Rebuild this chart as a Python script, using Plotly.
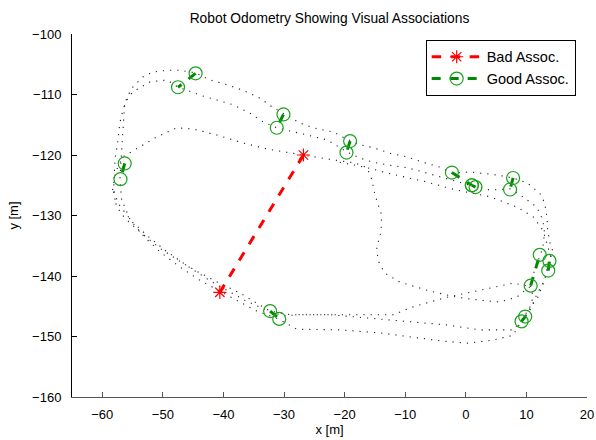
import plotly.graph_objects as go

# ---- odometry laps (data coordinates, metres) ----
lap1_x = [-57.9, -58.1, -57.9, -57.4, -57.1, -56.6, -55.9, -55.0, -53.3, -51.7, -49.3, -47.2, -44.7, -42.2, -39.4,
          -36.8, -34.0, -31.9, -30.0, -27.4, -25.2, -21.9, -19.6, -17.5, -15.3, -12.5, -9.7, -7.1, -4.3, -2.3,
          0.7, 5.1, 7.8, 10.1, 12.2, 13.0, 13.4, 13.5, 13.9, 14.4, 13.7, 13.0, 11.9, 10.6, 9.7,
          7.8, 2.3, -3.1, -8.7, -16.3, -22.4, -29.0, -32.3, -34.5, -37.3, -40.6, -43.9, -46.7, -50.5,
          -53.8, -56.3, -57.6, -57.9]
lap1_y = [-127.4, -125.0, -120.8, -117.5, -114.7, -112.6, -110.4, -108.8, -107.1, -106.3, -106.0, -106.0, -106.4,
          -107.6, -108.4, -109.3, -110.6, -112.1, -113.2, -114.7, -115.5, -116.2, -117.4, -118.3, -118.8, -119.7,
          -120.3, -121.2, -122.0, -123.0, -122.8, -123.3, -123.8, -124.6, -126.3, -127.9, -130.3, -132.4, -134.6,
          -136.0, -137.5, -140.7, -143.5, -145.3, -146.8, -148.9, -148.9, -148.1, -147.6, -146.9, -146.4, -146.4,
          -145.8, -144.5, -142.8, -141.2, -139.5, -137.9, -135.4, -132.7, -130.4, -128.6, -127.4]

lap2_x = [-56.8, -57.1, -56.9, -56.6, -56.3, -55.0, -52.1, -49.3, -47.5, -46.0, -43.9, -41.1, -38.4, -35.6, -33.5,
          -31.2, -28.5, -26.2, -22.9, -19.6, -17.5, -15.3, -12.5, -9.7, -7.1, -4.3, 1.0, 4.0, 7.3, 9.4, 11.7,
          12.7, 13.0, 12.7, 12.2, 11.6, 10.9, 10.7, 11.1, 10.6, 9.2, 7.8, 4.5, 0.2, -4.3, -8.7, -14.2, -20.8,
          -27.9, -30.9, -34.5, -37.3, -40.3, -43.9, -47.2, -50.5, -53.0, -55.4, -56.8]
lap2_y = [-127.4, -124.1, -120.8, -115.9, -111.4, -109.6, -107.9, -107.6, -108.8, -109.3, -110.1, -110.9, -111.7,
          -113.1, -114.5, -115.5, -116.2, -116.7, -117.5, -119.5, -120.5, -121.2, -121.7, -122.1, -122.8, -123.6,
          -125.1, -125.8, -125.6, -126.9, -128.6, -130.7, -132.9, -135.3, -136.9, -138.5, -140.3, -141.7, -143.5,
          -145.1, -147.4, -149.8, -150.6, -151.1, -150.7, -150.1, -149.4, -148.9, -148.8, -147.1, -145.8, -144.3,
          -142.6, -140.7, -138.5, -136.0, -133.6, -130.7, -127.4]

lap3_x = [-58.3, -57.8, -56.6, -53.8, -51.0, -47.7, -45.0, -41.1, -36.8, -32.8, -29.5, -26.9, -21.9, -18.3, -16.3,
          -15.5, -15.0, -13.9, -14.0, -14.7, -14.5, -13.4, -10.9, -5.9, -1.5, 2.3, 5.6, 8.4, 10.1, 10.7,
          7.8, 2.3, -3.1, -8.7, -12.0, -19.1, -27.4, -30.2, -33.7, -36.5, -39.4, -42.2, -46.0, -49.7, -52.5,
          -55.0, -57.1, -58.3]
lap3_y = [-125.8, -122.8, -120.3, -118.7, -117.0, -115.5, -115.7, -116.7, -118.0, -119.0, -119.5, -120.0, -120.8,
          -121.3, -122.1, -124.1, -126.6, -129.9, -132.7, -135.3, -137.4, -139.5, -141.0, -142.5, -143.5, -144.0,
          -144.3, -143.5, -142.1, -141.7, -141.2, -142.3, -143.5, -145.1, -146.4, -146.4, -146.4, -146.6, -145.3,
          -144.0, -142.3, -140.8, -138.3, -135.7, -133.4, -131.1, -128.4, -125.8]

lap4_x = [-20.8, -19.1, -16.3, -12.5, -7.1, -1.5, 4.0, 8.4, 11.1, 12.7, 13.4, 14.0, 13.5, 12.7, 11.7, 10.6, 9.2]
lap4_y = [-121.2, -121.5, -122.1, -123.1, -124.3, -125.8, -126.9, -128.6, -130.2, -132.4, -134.6, -136.9, -139.2,
          -141.2, -143.1, -145.6, -147.6]

# ---- associations ----
bad_x = [-26.8, -40.6]
bad_y = [-120.0, -142.7]

good_start_x = [-44.6, -30.1, -19.1, -2.3, 1.0, 7.8, 10.7, 13.6, 9.8, -56.3, -32.3]
good_start_y = [-106.5, -113.3, -117.7, -122.9, -125.0, -123.8, -141.6, -139.1, -146.7, -121.4, -145.8]
good_end_x = [-47.5, -31.2, -19.7, 1.0, 1.6, 7.3, 12.2, 13.8, 9.2, -57.0, -30.8]
good_end_y = [-108.8, -115.5, -119.6, -125.0, -125.3, -125.7, -136.5, -137.5, -147.5, -124.0, -147.1]

x_ticks = [-60, -50, -40, -30, -20, -10, 0, 10, 20]
y_ticks = [-100, -110, -120, -130, -140, -150, -160]

FONT = "Liberation Sans, Arial, Helvetica, sans-serif"

fig = go.Figure()

for lx, ly in [(lap1_x, lap1_y), (lap2_x, lap2_y), (lap3_x, lap3_y), (lap4_x, lap4_y)]:
    fig.add_trace(go.Scatter(x=lx, y=ly, mode="lines", showlegend=False, hoverinfo="skip",
                             line=dict(color="#222222", width=1.1, dash="1.2px,6px")))

fig.add_trace(go.Scatter(x=bad_x, y=bad_y, mode="lines+markers", name="Bad Assoc.",
                         line=dict(color="#ff0000", width=3, dash="9.5px,9.5px"),
                         marker=dict(symbol="asterisk-open", size=11, color="#ff0000",
                                     line=dict(width=1.2, color="#ff0000"))))

gx, gy = [], []
for sx, sy, ex, ey in zip(good_start_x, good_start_y, good_end_x, good_end_y):
    gx += [sx, ex, None]
    gy += [sy, ey, None]
fig.add_trace(go.Scatter(x=gx, y=gy, mode="lines+markers", name="Good Assoc.", connectgaps=False,
                         line=dict(color="#008a00", width=3, dash="9px,9px"),
                         marker=dict(symbol="circle-open", size=13, color="#1da01d",
                                     line=dict(width=1.2, color="#1da01d"))))

fig.update_layout(
    width=596, height=440,
    margin=dict(l=72, r=9, t=34, b=43),
    paper_bgcolor="white", plot_bgcolor="white",
    font=dict(family=FONT, size=13, color="black"),
    title=dict(text="Robot Odometry Showing Visual Associations", x=329.5 / 596,
               xanchor="center", y=1 - 18 / 440, yanchor="middle", yref="container",
               font=dict(family=FONT, size=13.8, color="black")),
    showlegend=True,
    legend=dict(x=0.978, y=0.984, xanchor="right", yanchor="top", bgcolor="white",
                bordercolor="black", borderwidth=1, font=dict(family=FONT, size=14.5),
                itemwidth=50, tracegroupgap=0),
)
fig.update_xaxes(range=[-65, 20], tickvals=x_ticks, showgrid=False, zeroline=False,
                 showline=True, linecolor="#555555", linewidth=1, ticks="inside", ticklen=5,
                 tickcolor="#555555", ticklabelstandoff=5,
                 title=dict(text="x [m]", standoff=4, font=dict(family=FONT, size=13)),
                 automargin=False, mirror=False)
fig.update_yaxes(range=[-160, -100], tickvals=y_ticks, showgrid=False, zeroline=False,
                 showline=True, linecolor="black", linewidth=1, ticks="inside", ticklen=5,
                 tickcolor="black", ticklabelstandoff=7,
                 title=dict(text="y [m]", standoff=10, font=dict(family=FONT, size=13)),
                 automargin=False, mirror=False)

fig.write_html("out.html", config={"displayModeBar": False},
               post_script="document.body.style.margin='0';document.body.style.overflow='hidden';")
